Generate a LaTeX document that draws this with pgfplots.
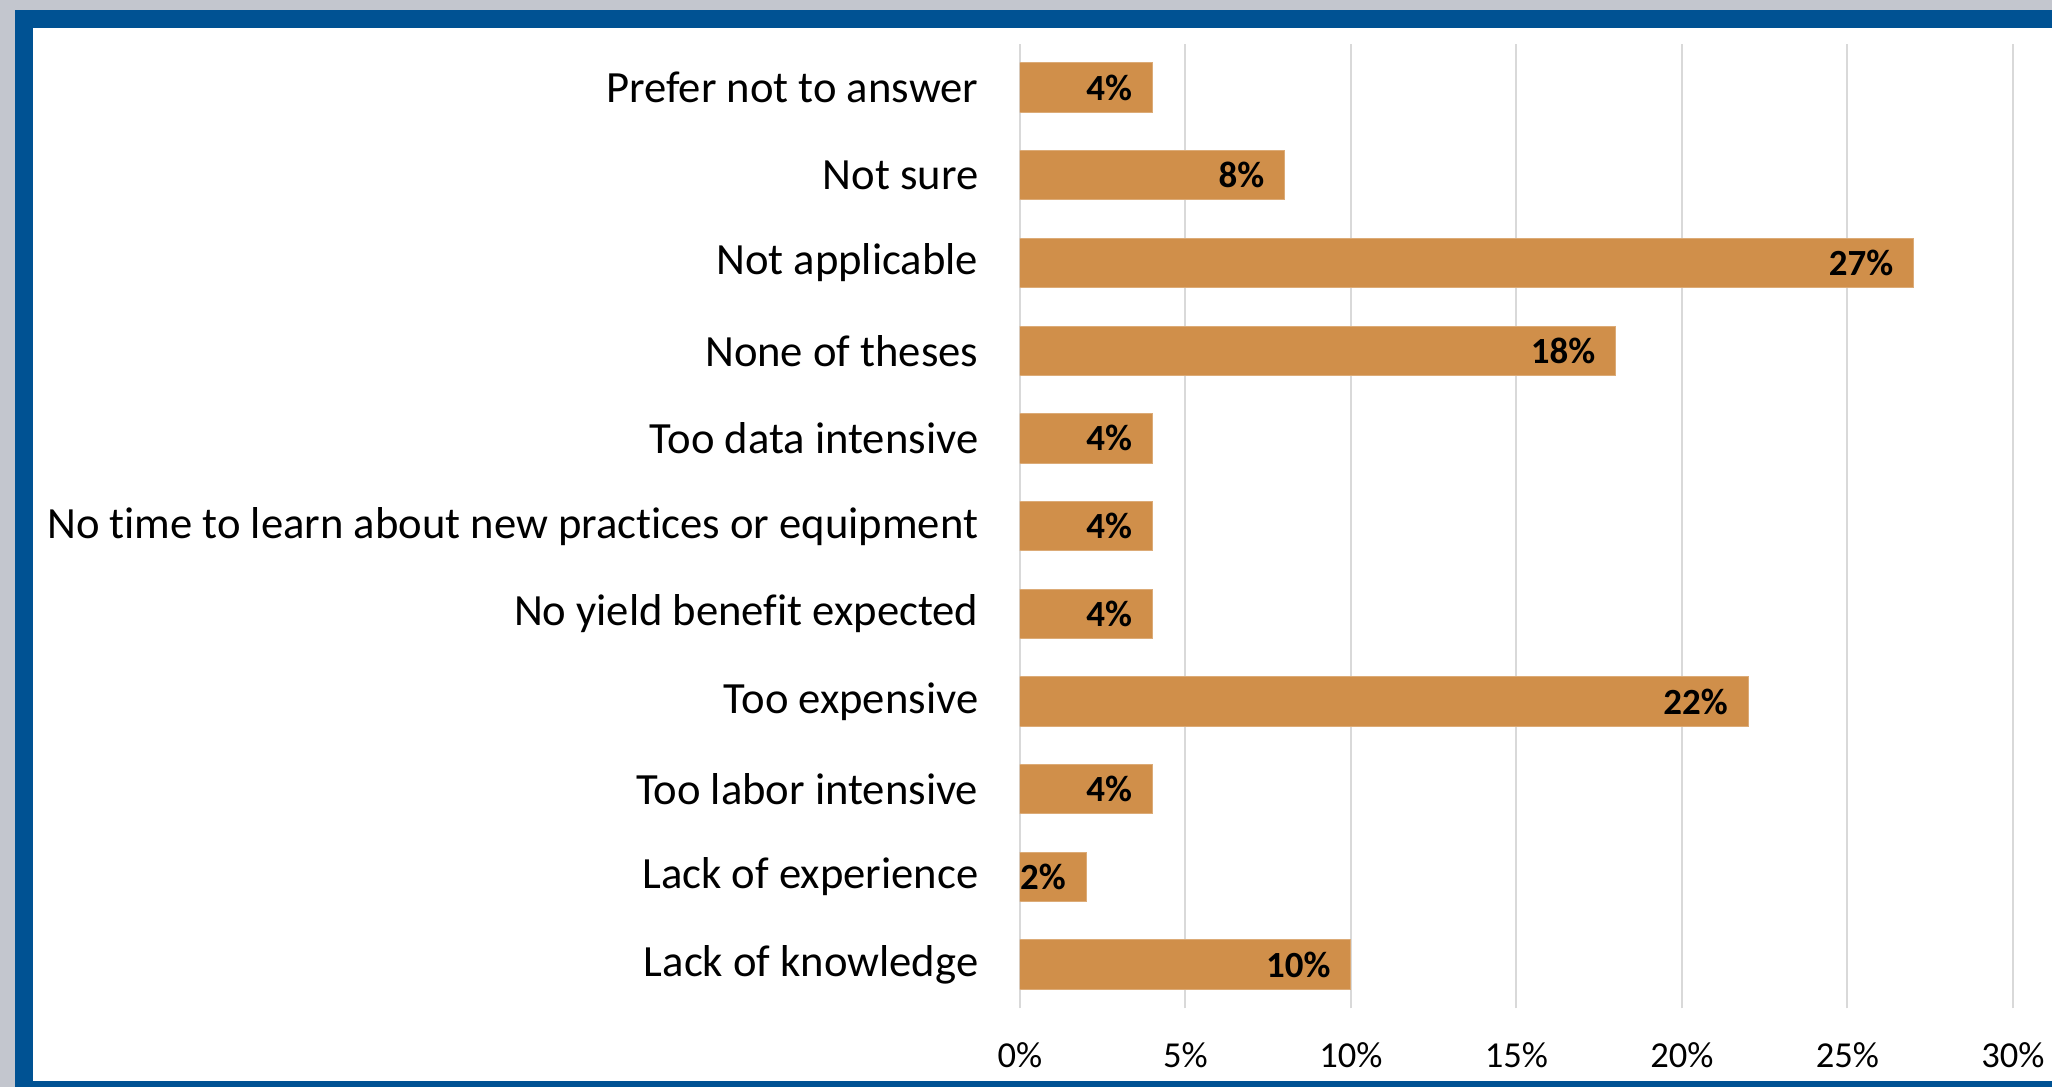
\documentclass[border=0pt]{standalone}
\usepackage{pgfplots}
\pgfplotsset{compat=1.18}
\usepackage{fontspec}
\setmainfont{Carlito}[Ligatures={NoCommon}]
\definecolor{bgout}{HTML}{C3C6CE}
\definecolor{framec}{HTML}{005293}
\definecolor{barc}{HTML}{D08F4A}
\definecolor{gridc}{HTML}{D9D9D9}

\begin{document}
\begin{tikzpicture}
% outer grey, blue frame, white panel (1 px = 0.1 mm)
\path[use as bounding box] (0,0) rectangle (205.2mm,108.7mm);
\fill[bgout] (0,0) rectangle (205.2mm,108.7mm);
\fill[framec] (1.5mm,0) rectangle (205.2mm,107.7mm);
\fill[white] (3.3mm,0.6mm) rectangle (205.2mm,105.9mm);
\begin{axis}[
  at={(102mm,7.86mm)}, anchor=south west,
  width=99.3mm, height=96.46mm, scale only axis,
  xbar, bar width=4.93mm,
  xmin=0, xmax=30, ymin=-0.5, ymax=10.5,
  xtick={0,5,...,30},
  xticklabel={\pgfmathprintnumber{\tick}\%},
  ytick={0,...,10},
  yticklabels={Lack of knowledge, Lack of experience, Too labor intensive,
    Too expensive, No yield benefit expected,
    No time to learn about new practices or equipment,
    Too data intensive, None of theses, Not applicable, Not sure,
    Prefer not to answer},
  major tick length=0,
  axis line style={draw=none},
  xmajorgrids, grid style={gridc, line width=0.2mm},
  yticklabel style={font=\fontsize{12.7}{14}\selectfont, text=black,
    anchor=east, inner sep=0pt, xshift=-4.1mm},
  xticklabel style={font=\fontsize{10.4}{12}\selectfont, text=black,
    anchor=center, inner sep=0pt, yshift=-4.7mm},
  /pgf/number format/assume math mode=true,
  nodes near coords={\bfseries\pgfmathprintnumber{\pgfplotspointmeta}\%},
  nodes near coords style={anchor=east, inner sep=0pt, xshift=-2mm,
    font=\fontsize{10.5}{12}\selectfont, text=black},
]
\addplot[fill=barc, draw=barc!75!white, line width=0.1mm] coordinates {
  (10,0) (2,1) (4,2) (22,3) (4,4) (4,5) (4,6) (18,7) (27,8) (8,9) (4,10)
};
\end{axis}
\end{tikzpicture}
\end{document}
